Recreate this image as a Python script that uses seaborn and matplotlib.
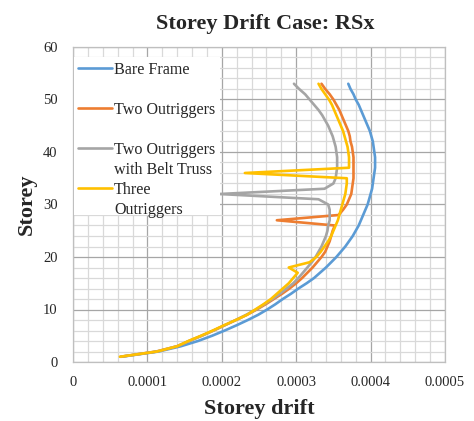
import numpy as np
import pandas as pd
import matplotlib
matplotlib.use("Agg")
import matplotlib.pyplot as plt
from matplotlib.lines import Line2D
from matplotlib.patches import Rectangle
from matplotlib.ticker import MultipleLocator
import seaborn as sns

# ---------------- data (drift values in units of 1e-4) ----------------
storeys = list(range(1, 54))
bare_frame = [0.65, 1.15, 1.45, 1.68, 1.87, 2.04, 2.20, 2.35, 2.49, 2.61,
              2.72, 2.82, 2.93, 3.03, 3.14, 3.24, 3.32, 3.40, 3.47, 3.54,
              3.60, 3.66, 3.71, 3.76, 3.80, 3.84, 3.87, 3.90, 3.93, 3.96,
              3.98, 4.00, 4.02, 4.03, 4.04, 4.05, 4.06, 4.06, 4.06, 4.05,
              4.04, 4.03, 4.01, 3.99, 3.96, 3.93, 3.90, 3.87, 3.84, 3.80,
              3.77, 3.73, 3.70]
two_outriggers = [0.64, 1.12, 1.40, 1.56, 1.73, 1.89, 2.04, 2.19, 2.34, 2.47,
                  2.59, 2.70, 2.81, 2.91, 3.00, 3.08, 3.15, 3.22, 3.28, 3.34,
                  3.39, 3.42, 3.45, 3.47, 3.49, 3.52, 2.74, 3.57, 3.63, 3.68,
                  3.71, 3.74, 3.75, 3.76, 3.77, 3.77, 3.77, 3.77, 3.77, 3.76,
                  3.75, 3.73, 3.72, 3.70, 3.67, 3.64, 3.61, 3.58, 3.54, 3.50,
                  3.45, 3.39, 3.34]
two_outriggers_belt = [0.64, 1.13, 1.40, 1.56, 1.73, 1.89, 2.04, 2.19, 2.33, 2.46,
                       2.57, 2.68, 2.78, 2.87, 2.96, 3.03, 3.09, 3.15, 3.21, 3.26,
                       3.30, 3.34, 3.37, 3.40, 3.42, 3.43, 3.45, 3.45, 3.45, 3.43,
                       3.30, 1.97, 3.38, 3.50, 3.53, 3.54, 3.55, 3.55, 3.55, 3.54,
                       3.53, 3.51, 3.49, 3.46, 3.43, 3.39, 3.35, 3.30, 3.24, 3.18,
                       3.12, 3.04, 2.97]
three_outriggers = [0.63, 1.13, 1.40, 1.55, 1.72, 1.88, 2.03, 2.19, 2.34, 2.45,
                    2.56, 2.66, 2.74, 2.82, 2.90, 2.96, 3.02, 2.90, 3.18, 3.27,
                    3.33, 3.38, 3.43, 3.47, 3.50, 3.53, 3.56, 3.58, 3.60, 3.62,
                    3.64, 3.66, 3.67, 3.68, 3.68, 2.31, 3.71, 3.71, 3.71, 3.70,
                    3.69, 3.67, 3.65, 3.63, 3.60, 3.57, 3.54, 3.51, 3.48, 3.44,
                    3.39, 3.34, 3.30]
drift_unit = 1e-4

series_names = ["Bare Frame", "Two Outriggers",
                "Two Outriggers with Belt Truss", "Three Outriggers"]
legend_lines = [["Bare Frame"], ["Two Outriggers"],
                ["Two Outriggers", "with Belt Truss"], ["Three", "Outriggers"]]
series_colors = ["#5B9BD5", "#ED7D31", "#A5A5A5", "#FFC000"]

xtick_values = [0, 0.0001, 0.0002, 0.0003, 0.0004, 0.0005]
xtick_labels = ["0", "0.0001", "0.0002", "0.0003", "0.0004", "0.0005"]
ytick_values = [0, 10, 20, 30, 40, 50, 60]

title_text = "Storey Drift Case: RSx"
xlabel_text = "Storey drift"
ylabel_text = "Storey"

# ---------------- build long table ----------------
frames = []
for name, vals in zip(series_names, [bare_frame, two_outriggers,
                                     two_outriggers_belt, three_outriggers]):
    frames.append(pd.DataFrame({
        "series": name,
        "drift": np.asarray(vals) * drift_unit,
        "storey": storeys,
    }))
df = pd.concat(frames, ignore_index=True)

# ---------------- style ----------------
sns.set_style("white")
plt.rcParams["font.family"] = ["Liberation Serif", "DejaVu Serif"]

fig = plt.figure(figsize=(4.74, 4.21), dpi=100)
ax = fig.add_axes([73 / 474, 59 / 421, 372 / 474, 315 / 421])

sns.lineplot(data=df, x="drift", y="storey", hue="series",
             hue_order=series_names, palette=series_colors,
             sort=False, estimator=None, units="series",
             linewidth=1.9, legend=False, ax=ax)

ax.set_xlim(0, 0.0005)
ax.set_ylim(0, 60)
ax.set_xticks(xtick_values)
ax.set_xticklabels(xtick_labels)
ax.set_yticks(ytick_values)
ax.xaxis.set_minor_locator(MultipleLocator(0.00002))
ax.yaxis.set_minor_locator(MultipleLocator(2))
ax.set_axisbelow(True)
ax.grid(which="major", color="#A6A6A6", linewidth=0.9)
ax.grid(which="minor", color="#D9D9D9", linewidth=0.9)
ax.tick_params(which="both", length=0, labelsize=10.5, colors="#262626")
ax.tick_params(axis="y", pad=11)
ax.tick_params(axis="x", pad=10)
for sp in ax.spines.values():
    sp.set_color("#BFBFBF")
    sp.set_linewidth(0.9)

ax.set_xlabel(xlabel_text, fontsize=16, fontweight="bold")
ax.set_ylabel(ylabel_text, fontsize=16, fontweight="bold")
ax.xaxis.set_label_coords(0.5, -0.118)
ax.yaxis.set_label_coords(-0.097, 0.5)
ax.set_title(title_text, fontsize=16, fontweight="bold", x=0.516, pad=13)

# ---------------- legend ----------------
ax.add_patch(Rectangle((0.003, 0.467), 0.392, 0.501, transform=ax.transAxes,
                       facecolor="white", edgecolor="none", zorder=4))
handles, labels = [], []
for color, lines in zip(series_colors, legend_lines):
    handles.append(Line2D([], [], color=color, linewidth=1.9))
    labels.append(lines[0])
    handles.append(Line2D([], [], color="none"))
    labels.append(lines[1] if len(lines) > 1 else " ")
leg = ax.legend(handles, labels, loc="upper left",
                bbox_to_anchor=(0.0134, 0.952), frameon=False,
                fontsize=11.6, borderpad=0, borderaxespad=0,
                handlelength=2.1, handletextpad=0.15, labelspacing=0.245)
leg.set_zorder(5)

fig.savefig("out.png", dpi=100, facecolor="white")
